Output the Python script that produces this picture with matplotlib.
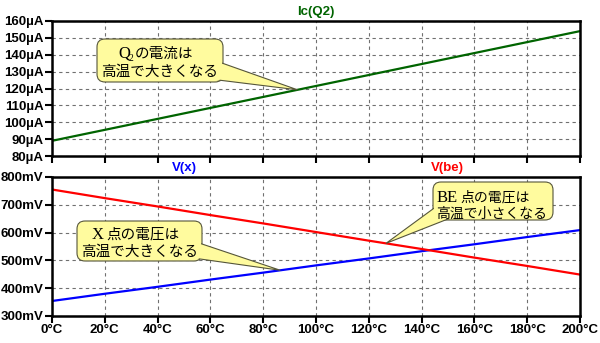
import numpy as np
import matplotlib
matplotlib.use("Agg")
import matplotlib.pyplot as plt
from matplotlib.patches import FancyBboxPatch, Polygon
from matplotlib.transforms import Affine2D

W, H = 600, 343

# temperature sweep (deg C)
temp = [0, 20, 40, 60, 80, 100, 120, 140, 160, 180, 200]
# collector current of Q2 (uA)
ic_q2 = [89, 95.5, 102, 108.5, 115, 121.5, 128, 134.5, 141, 147.5, 154]
# node voltages (mV)
v_x = [354, 380, 405, 431, 456, 482, 507, 533, 558, 584, 609]
v_be = [755, 724, 694, 663, 633, 602, 571, 541, 510, 480, 449]

x_ticks = list(range(0, 201, 20))
x_labels = [f"{t}°C" for t in x_ticks]
ic_ticks = list(range(80, 161, 10))
ic_labels = [f"{v}µA" for v in ic_ticks]
v_ticks = list(range(300, 801, 100))
v_labels = [f"{v}mV" for v in v_ticks]

tick_font = dict(family="Liberation Sans", weight="bold", size=9.5)
jp_font = dict(family=["Noto Sans CJK JP", "DejaVu Sans"], color="black")
serif_font = dict(family=["Liberation Serif", "DejaVu Serif"], color="black")

fig = plt.figure(figsize=(W / 100, H / 100), dpi=100)
fig.patch.set_facecolor("white")

ax1 = fig.add_axes([52 / W, 1 - 156 / H, 528 / W, 135 / H])
ax2 = fig.add_axes([52 / W, 1 - 316 / H, 528 / W, 139 / H])


def style_axes(ax, yticks, ylabels, ylim, show_x):
    ax.set_xlim(0, 200)
    ax.set_ylim(*ylim)
    ax.set_xticks(x_ticks)
    ax.set_yticks(yticks)
    ax.set_yticklabels(ylabels, fontdict=tick_font)
    if show_x:
        ax.set_xticklabels(x_labels, fontdict=tick_font)
    else:
        ax.set_xticklabels([])
    ax.grid(True, color="#707070", linestyle=(0, (3, 3)), linewidth=0.8)
    ax.tick_params(direction="out", length=5, width=1.5, pad=1, colors="black")
    for sp in ax.spines.values():
        sp.set_linewidth(1.8)
        sp.set_color("black")


ax1.plot(temp, ic_q2, color="#006400", lw=1.6)
style_axes(ax1, ic_ticks, ic_labels, (80, 160), False)

ax2.plot(temp, v_x, color="#0000ff", lw=1.6)
ax2.plot(temp, v_be, color="#ff0000", lw=1.6)
style_axes(ax2, v_ticks, v_labels, (300, 800), True)

title_font = dict(family="Liberation Sans", weight="bold", size=9.5)
fig.text(316 / W, 1 - 12 / H, "Ic(Q2)", color="#006400", ha="center", va="center", **title_font)
fig.text(184 / W, 1 - 168 / H, "V(x)", color="#0000ff", ha="center", va="center", **title_font)
fig.text(447 / W, 1 - 168 / H, "V(be)", color="#ff0000", ha="center", va="center", **title_font)

# pixel coordinates measured from the top-left corner
px = Affine2D().scale(1 / W, -1 / H).translate(0, 1) + fig.transFigure


def to_px(ax, x, y):
    dx, dy = ax.transData.transform((x, y))
    return dx, H - dy


fill_c = "#fffb9e"
edge_c = "#55553a"


def callout(box, base, tip):
    x0, y0, x1, y1 = box
    bw, bh = x1 - x0, y1 - y0
    outer = FancyBboxPatch((x0, y0), bw, bh, boxstyle="round,pad=0,rounding_size=8",
                           transform=px, facecolor=fill_c, edgecolor=edge_c, lw=0.8, zorder=5)
    wedge = Polygon([base[0], tip, base[1]], closed=True, transform=px,
                    facecolor=fill_c, edgecolor=edge_c, lw=0.8, zorder=6)
    inner = FancyBboxPatch((x0 + 1, y0 + 1), bw - 2, bh - 2,
                           boxstyle="round,pad=0,rounding_size=7",
                           transform=px, facecolor=fill_c, edgecolor="none", zorder=7)
    for p in (outer, wedge, inner):
        fig.add_artist(p)


def label(x, y, s, font, size, ha="left"):
    fig.text(x, y, s, transform=px, ha=ha, va="baseline", size=size, zorder=8, **font)


# Ic(Q2) rises with temperature
t_tip = 93
callout((97, 39, 223, 82), [(219, 62), (210, 79)],
        to_px(ax1, t_tip, np.interp(t_tip, temp, ic_q2)))
label(118, 58, "Q", serif_font, 12)
label(128.5, 61, "2", serif_font, 7)
label(135, 58, "の電流は", jp_font, 10.5)
label(160, 76, "高温で大きくなる", jp_font, 10.5, ha="center")

# V(x) rises with temperature
t_tip = 86.5
callout((77, 221, 202, 261), [(199, 243), (193, 258)],
        to_px(ax2, t_tip, np.interp(t_tip, temp, v_x)))
label(92, 239, "X", serif_font, 12)
label(106, 239, "点の電圧は", jp_font, 10.5)
label(140, 256, "高温で大きくなる", jp_font, 10.5, ha="center")

# V(be) falls with temperature
t_tip = 126.5
callout((433, 182, 553, 220), [(437, 206), (453, 217)],
        to_px(ax2, t_tip, np.interp(t_tip, temp, v_be)))
label(437, 202, "BE", serif_font, 12)
label(460, 202, "点の電圧は", jp_font, 10)
label(492, 218, "高温で小さくなる", jp_font, 10, ha="center")

fig.savefig("out.png", dpi=100)
